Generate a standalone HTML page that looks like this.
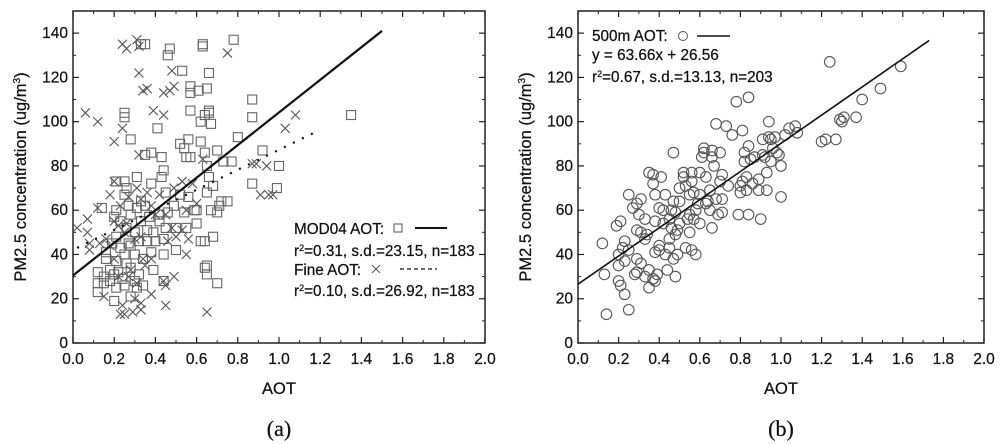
<!DOCTYPE html>
<html><head><meta charset="utf-8"><style>
body{margin:0;background:#fff;}
svg{display:block;font-family:"Liberation Sans",sans-serif;}
text{stroke:#111;stroke-width:0.25;}
</style></head><body>
<svg id="c" width="1000" height="444" viewBox="0 0 1000 444"></svg>
<script>
const sqData=[[0.33,135],[0.35,135],[0.47,133],[0.46,130],[0.63,135],[0.63,134],[0.78,137],[0.53,123],[0.66,122],[0.57,116],[0.57,113],[0.61,114],[0.65,115],[0.87,110],[0.57,105],[0.66,105],[0.25,104],[0.25,102],[0.64,103],[0.66,104],[0.62,100],[0.67,99],[0.87,102],[1.35,103],[0.41,97],[0.8,93],[0.28,92],[0.56,92],[0.52,90],[0.54,88],[0.62,91],[0.38,86],[0.35,85],[0.43,84],[0.55,84],[0.57,84],[0.64,86],[0.7,87],[0.92,87],[0.77,82],[0.73,82],[0.65,80],[1.0,80],[0.44,78],[0.43,75],[0.31,75],[0.87,72],[0.66,75],[0.68,71],[0.21,73],[0.25,73],[0.38,72],[0.99,70],[0.26,70],[0.25,67],[0.45,68],[0.52,67],[0.56,66],[0.65,68],[0.72,64],[0.75,64],[0.71,62],[0.67,60],[0.7,59],[0.6,60],[0.59,60],[0.54,59],[0.46,59],[0.49,62],[0.31,61],[0.35,62],[0.33,64],[0.21,60],[0.14,61],[0.28,58],[0.2,57],[0.37,57],[0.42,55],[0.6,54],[0.55,52],[0.5,52],[0.45,52],[0.26,52],[0.3,50],[0.39,50],[0.44,47],[0.36,46],[0.21,48],[0.19,45],[0.23,43],[0.27,45],[0.32,46],[0.62,46],[0.64,46],[0.68,48],[0.5,42],[0.38,41],[0.3,40],[0.25,40],[0.44,40],[0.16,38],[0.21,37],[0.26,36],[0.34,38],[0.12,32],[0.15,30],[0.18,33],[0.2,31],[0.24,29],[0.28,34],[0.32,31],[0.39,33],[0.64,34],[0.65,35],[0.65,31],[0.12,27],[0.15,27],[0.12,23],[0.21,25],[0.25,26],[0.31,25],[0.44,28],[0.7,27],[0.28,21],[0.2,19],[0.18,28],[0.22,32],[0.3,28],[0.34,26],[0.28,44],[0.33,55],[0.36,51],[0.4,46],[0.42,58],[0.16,41],[0.23,55],[0.27,62]];
const xData=[[0.31,137],[0.24,135],[0.26,133],[0.32,134],[0.75,131],[0.32,122],[0.48,123],[0.34,114],[0.36,115],[0.44,113],[0.47,114],[0.49,116],[0.06,104],[0.12,100],[0.39,105],[0.44,103],[0.24,97],[0.2,91],[1.08,103],[1.03,97],[0.32,85],[0.63,83],[0.87,81],[0.89,81],[0.94,80],[0.91,67],[0.95,67],[0.97,67],[0.02,52],[0.07,56],[0.07,50],[0.08,45],[0.08,42],[0.12,61],[0.18,67],[0.2,73],[0.2,55],[0.22,53],[0.23,62],[0.27,66],[0.31,70],[0.33,65],[0.38,62],[0.42,67],[0.45,58],[0.49,70],[0.53,73],[0.55,60],[0.58,72],[0.6,63],[0.56,47],[0.48,52],[0.46,46],[0.55,40],[0.38,38],[0.35,35],[0.28,33],[0.22,30],[0.3,20],[0.15,21],[0.24,17],[0.33,18],[0.38,22],[0.25,13],[0.29,14],[0.33,15],[0.45,17],[0.65,14],[0.44,28],[0.49,30],[0.45,26],[0.18,44],[0.25,50],[0.3,47],[0.33,48],[0.26,54],[0.34,38],[0.2,38],[0.23,13],[0.16,47],[0.13,45],[0.4,58],[0.36,68],[0.5,48],[0.53,51],[0.27,30],[0.31,27]];
const ciData=[[0.12,45],[0.13,31],[0.14,13],[0.19,53],[0.21,55],[0.2,40],[0.2,35],[0.2,28],[0.21,26],[0.23,22],[0.23,37],[0.23,46],[0.22,43],[0.25,15],[0.25,42],[0.25,67],[0.27,61],[0.29,63],[0.3,58],[0.31,65],[0.29,51],[0.31,50],[0.29,38],[0.31,36],[0.28,31],[0.29,32],[0.33,30],[0.33,56],[0.33,47],[0.35,25],[0.35,33],[0.34,49],[0.35,77],[0.37,76],[0.37,72],[0.38,67],[0.38,55],[0.38,41],[0.37,29],[0.38,28],[0.39,31],[0.4,61],[0.4,42],[0.4,44],[0.41,75],[0.42,60],[0.42,54],[0.43,67],[0.43,40],[0.44,33],[0.45,56],[0.45,47],[0.45,43],[0.46,60],[0.46,52],[0.47,38],[0.47,86],[0.47,64],[0.48,59],[0.48,49],[0.48,30],[0.49,51],[0.49,40],[0.5,54],[0.5,64],[0.5,70],[0.52,75],[0.52,77],[0.53,71],[0.53,43],[0.54,56],[0.55,67],[0.55,50],[0.55,58],[0.56,77],[0.56,73],[0.56,42],[0.57,68],[0.57,56],[0.58,40],[0.58,60],[0.59,63],[0.6,67],[0.6,77],[0.6,54],[0.61,84],[0.62,86],[0.62,88],[0.63,75],[0.63,63],[0.64,64],[0.65,60],[0.65,69],[0.66,87],[0.66,84],[0.66,52],[0.67,80],[0.68,99],[0.68,65],[0.69,58],[0.7,86],[0.7,73],[0.71,76],[0.71,65],[0.71,59],[0.73,98],[0.74,71],[0.76,94],[0.78,109],[0.79,58],[0.8,71],[0.8,68],[0.81,96],[0.81,73],[0.82,86],[0.82,82],[0.83,75],[0.83,69],[0.84,58],[0.84,89],[0.84,111],[0.85,83],[0.86,72],[0.87,84],[0.89,74],[0.89,69],[0.9,56],[0.91,92],[0.91,85],[0.92,84],[0.93,77],[0.93,69],[0.94,100],[0.94,93],[0.95,92],[0.95,82],[0.96,88],[0.97,93],[0.98,86],[0.99,85],[1.0,80],[1.0,66],[1.02,94],[1.04,97],[1.07,98],[1.08,95],[1.2,91],[1.22,92],[1.24,127],[1.27,92],[1.29,101],[1.3,100],[1.31,102],[1.37,102],[1.4,110],[1.49,115],[1.59,125]];
const fitA=[[0,30.5],[1.5,141]];
const fitAFine=[[0.02,43],[1.17,95]];
const fitB=[[0,26.56],[1.73,136.7]];
const xTicks=[0,0.2,0.4,0.6,0.8,1.0,1.2,1.4,1.6,1.8,2.0];
const yTicks=[0,20,40,60,80,100,120,140];

const NS="http://www.w3.org/2000/svg";
const svg=document.getElementById('c');
function mk(t,a,p){const e=document.createElementNS(NS,t);for(const k in a)e.setAttribute(k,a[k]);(p||svg).appendChild(e);return e;}
function panel(x0,x1,id){
  const top=11,bot=343;
  const g=mk('g',{});
  
  
  const sx=v=>x0+v/2*(x1-x0), sy=v=>bot-v/150*(bot-top);
  const f=mk('rect',{x:x0,y:top,width:x1-x0,height:bot-top,fill:'none',stroke:'#222','stroke-width':1.5},g);
  
  xTicks.forEach((t,i)=>{const X=sx(t);
    mk('line',{x1:X,x2:X,y1:bot,y2:bot-6,stroke:'#222','stroke-width':1.2},g);
    mk('line',{x1:X,x2:X,y1:top,y2:top+6,stroke:'#222','stroke-width':1.2},g);
    if(i<xTicks.length-1){const Xm=sx(t+0.1);mk('line',{x1:Xm,x2:Xm,y1:bot,y2:bot-3,stroke:'#222'},g);mk('line',{x1:Xm,x2:Xm,y1:top,y2:top+3,stroke:'#222'},g);}
    const l=mk('text',{x:X,y:bot+21,'text-anchor':'middle','font-size':15.5,fill:'#111'},g);l.textContent=t.toFixed(1);
    });
  yTicks.forEach(t=>{const Y=sy(t);
    mk('line',{x1:x0,x2:x0+6,y1:Y,y2:Y,stroke:'#222','stroke-width':1.2},g);
    mk('line',{x1:x1,x2:x1-6,y1:Y,y2:Y,stroke:'#222','stroke-width':1.2},g);
    const Ym=sy(t+10);mk('line',{x1:x0,x2:x0+3,y1:Ym,y2:Ym,stroke:'#222'},g);mk('line',{x1:x1,x2:x1-3,y1:Ym,y2:Ym,stroke:'#222'},g);
    const l=mk('text',{x:x0-5,y:Y+5,'text-anchor':'end','font-size':15.5,fill:'#111'},g);l.textContent=t;
    });
  const xt=mk('text',{x:(x0+x1)/2,y:394,'text-anchor':'middle','font-size':16.5,fill:'#111'},g);xt.textContent='AOT';
  
  const yt=mk('text',{x:0,y:0,'text-anchor':'middle','font-size':16.5,fill:'#111',transform:`translate(${x0-47},${(top+bot)/2}) rotate(-90)`},g);
  yt.innerHTML='PM2.5 concentration (ug/m<tspan dy="-6" font-size="10">3</tspan><tspan dy="6">)</tspan>';
  
  const cap=mk('text',{x:(x0+x1)/2,y:436,'text-anchor':'middle','font-size':22,fill:'#111','font-family':'Liberation Serif, serif'},g);
  cap.textContent='('+id+')';
  return {g,sx,sy};
}
// Panel a
const A=panel(73,485,'a');
sqData.forEach(d=>{const s=mk('rect',{x:A.sx(d[0])-4.5,y:A.sy(d[1])-4.5,width:9,height:9,fill:'none',stroke:'#666','stroke-width':1.1},A.g);
  });
xData.forEach(d=>{const X=A.sx(d[0]),Y=A.sy(d[1]);const p=mk('path',{d:`M${X-4.5} ${Y-4.5}L${X+4.5} ${Y+4.5}M${X-4.5} ${Y+4.5}L${X+4.5} ${Y-4.5}`,stroke:'#555','stroke-width':1.1},A.g);
  });
let l1=mk('line',{x1:A.sx(fitA[0][0]),y1:A.sy(fitA[0][1]),x2:A.sx(fitA[1][0]),y2:A.sy(fitA[1][1]),stroke:'#111','stroke-width':2.2},A.g);

let l2=mk('line',{x1:A.sx(fitAFine[0][0]),y1:A.sy(fitAFine[0][1]),x2:A.sx(fitAFine[1][0]),y2:A.sy(fitAFine[1][1]),stroke:'#111','stroke-width':2.2,'stroke-dasharray':'2 8'},A.g);

const leg=mk('g',{},A.g);
[['MOD04 AOT: ',234],['r²=0.31, s.d.=23.15, n=183',256],['Fine AOT: ',275],['r²=0.10, s.d.=26.92, n=183',296]].forEach(r=>{
  const t=mk('text',{x:294,y:r[1],'font-size':15.3,fill:'#111'},leg);
  if(r[0].startsWith('r²')){t.innerHTML='r<tspan dy="-5" font-size="9">2</tspan><tspan dy="5">'+r[0].slice(2)+'</tspan>';}else t.textContent=r[0];});
mk('rect',{x:394,y:224,width:8,height:8,fill:'none',stroke:'#555'},leg);
mk('line',{x1:415,x2:447,y1:228,y2:228,stroke:'#111','stroke-width':2},leg);
mk('path',{d:'M372 265L380 273M372 273L380 265',stroke:'#555'},leg);
mk('line',{x1:400,x2:437,y1:269,y2:269,stroke:'#111','stroke-width':1.2,'stroke-dasharray':'4 3'},leg);
// Panel b
const B=panel(578,984,'b');
ciData.forEach(d=>{const c=mk('circle',{cx:B.sx(d[0]),cy:B.sy(d[1]),r:5.3,fill:'none',stroke:'#555','stroke-width':1.1},B.g);
  });
let l3=mk('line',{x1:B.sx(fitB[0][0]),y1:B.sy(fitB[0][1]),x2:B.sx(fitB[1][0]),y2:B.sy(fitB[1][1]),stroke:'#111','stroke-width':1.6},B.g);

const legB=mk('g',{},B.g);
let tb=mk('text',{x:592,y:41,'font-size':15.3,fill:'#111'},legB);tb.textContent='500m AOT:';
mk('circle',{cx:683,cy:36,r:4.5,fill:'none',stroke:'#555'},legB);
mk('line',{x1:697,x2:730,y1:36,y2:36,stroke:'#111','stroke-width':1.5},legB);
tb=mk('text',{x:592,y:60,'font-size':15.3,fill:'#111'},legB);tb.textContent='y = 63.66x + 26.56';
tb=mk('text',{x:592,y:82,'font-size':15.3,fill:'#111'},legB);tb.innerHTML='r<tspan dy="-5" font-size="9">2</tspan><tspan dy="5">=0.67, s.d.=13.13, n=203</tspan>';
</script>
</body></html>
